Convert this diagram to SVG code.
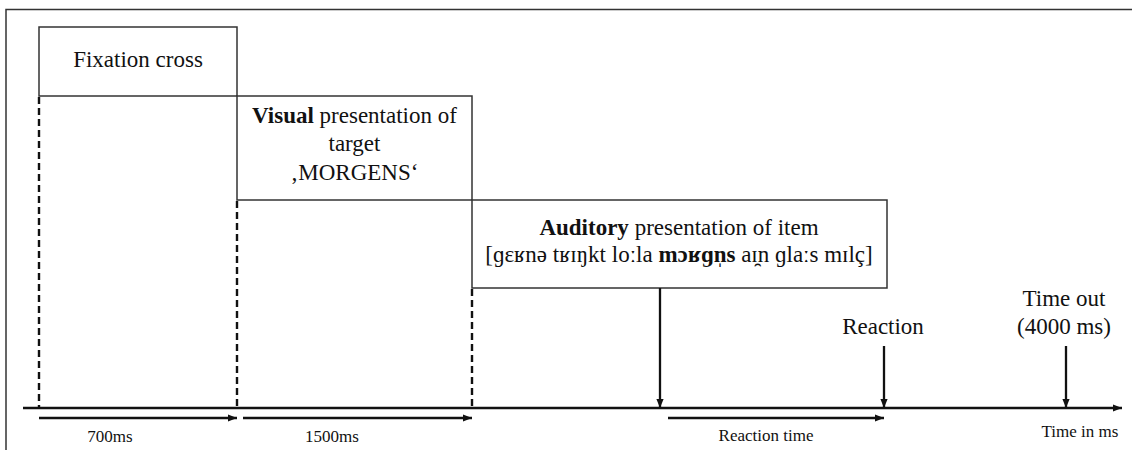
<svg xmlns="http://www.w3.org/2000/svg" width="1132" height="450" viewBox="0 0 1132 450">
<defs>
<marker id="ahs" viewBox="0 0 10 10" refX="10" refY="5" markerWidth="9" markerHeight="9" orient="auto" markerUnits="userSpaceOnUse">
<path d="M0,1 L10,5 L0,9 Z" fill="#111"/>
</marker>
</defs>
<style>
.box{fill:#fff;stroke:#333;stroke-width:1.5}
.t{font-family:"Liberation Serif","DejaVu Serif",serif;fill:#111;text-anchor:middle}
.big{font-size:23px}
.sm{font-size:17px}
.dash{stroke:#111;stroke-width:2.4;stroke-dasharray:7,4;fill:none}
.ln{stroke:#111;stroke-width:2.6;fill:none}
.ar{stroke:#111;stroke-width:2.3;fill:none;marker-end:url(#ahs)}
</style>
<rect width="1132" height="450" fill="#fff"/>
<path d="M6,450 L6,9.5 L1132,9.5" fill="none" stroke="#333" stroke-width="1.5"/>

<g id="fixation">
<rect class="box" x="39" y="27" width="198" height="69"/>
<text class="t big" x="138" y="67">Fixation cross</text>
</g>
<g id="visual">
<rect class="box" x="237" y="96" width="235" height="104"/>
<text class="t big" x="354.5" y="123"><tspan font-weight="bold">Visual</tspan> presentation of</text>
<text class="t big" x="354.5" y="151">target</text>
<text class="t big" x="354.5" y="180">‚MORGENS‘</text>
</g>
<g id="auditory">
<rect class="box" x="472" y="200" width="415" height="88"/>
<text class="t big" x="679" y="235"><tspan font-weight="bold">Auditory</tspan> presentation of item</text>
<text class="t big" x="679" y="262">[ɡɛʁnə tʁɪŋkt loːla <tspan font-weight="bold">mɔʁɡn̩s</tspan> aɪ̯n ɡlaːs mɪlç]</text>
</g>
<g id="reaction-label">
<text class="t big" x="883" y="334">Reaction</text>
</g>
<g id="timeout-label">
<text class="t big" x="1064" y="306">Time out</text>
<text class="t big" x="1064" y="334">(4000 ms)</text>
</g>
<g id="duration-labels">
<text class="t sm" x="110" y="442">700ms</text>
<text class="t sm" x="332" y="442">1500ms</text>
<text class="t sm" x="766" y="441">Reaction time</text>
<text class="t sm" x="1080" y="437">Time in ms</text>
</g>

<g id="connectors">
<line class="dash" x1="39" y1="97" x2="39" y2="408"/>
<line class="dash" x1="237" y1="201" x2="237" y2="408"/>
<line class="dash" x1="472" y1="289" x2="472" y2="408"/>
<line class="ln" x1="23" y1="408" x2="1122" y2="408" marker-end="url(#ahs)"/>
<line class="ar" x1="39" y1="418" x2="237" y2="418"/>
<line class="ar" x1="243" y1="418" x2="472" y2="418"/>
<line class="ar" x1="668" y1="418" x2="884" y2="418"/>
<line class="ar" x1="660" y1="288" x2="660" y2="408"/>
<line class="ar" x1="884" y1="346" x2="884" y2="408"/>
<line class="ar" x1="1066" y1="346" x2="1066" y2="408"/>
</g>
</svg>
